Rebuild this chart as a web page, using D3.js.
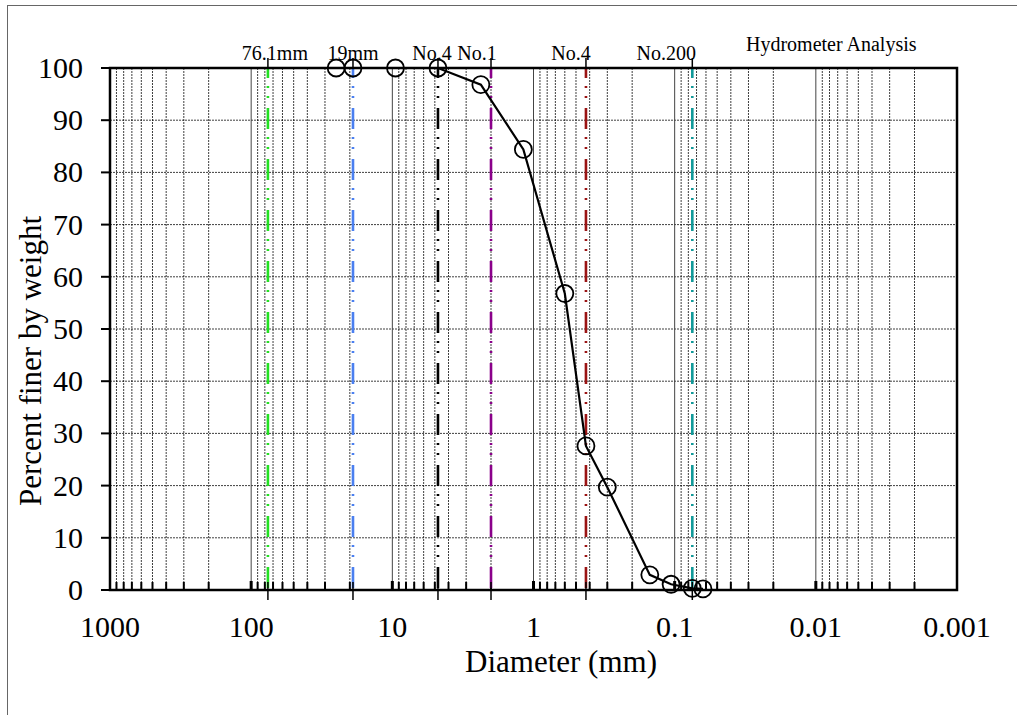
<!DOCTYPE html>
<html>
<head>
<meta charset="utf-8">
<script src="https://cdn.jsdelivr.net/npm/d3@7"></script>
<style>
    body{margin:0;background:#fff;}
    text{font-family:'Liberation Serif','Times New Roman',serif;fill:#000;}
</style>
</head>
<body>
<script>
// sieve analysis results
var diameters=[25,19,9.5,4.75,2.36,1.18,0.6,0.425,0.3,0.15,0.106,0.075,0.063];
var percentFiner=[100,100,100,100,96.8,84.4,56.8,27.6,19.7,2.9,1.1,0.3,0.2];
// reference sieve sizes
var sieveSizes=[76.1,19,4.75,2,0.425,0.075];
var sieveLabels=['76.1mm','19mm','No.4','No.1','No.4','No.200'];
var sieveColors=['#22e022','#4a7ff0','#000000','#8a008a','#9a1414','#129a9a'];
var xTicks=[1000,100,10,1,0.1,0.01,0.001];
var yTicks=[0,10,20,30,40,50,60,70,80,90,100];

var width=1017,height=715;
var pLeft=110,pRight=957,pTop=68,pBottom=590;
var labelDx=[7,0,-6,-14,-15,-26];   // label nudges, as in the sheet

var svg=d3.select('body').append('svg').attr('width',width).attr('height',height);

// outer frame
svg.append('rect').attr('x',7.5).attr('y',5.5).attr('width',1100).attr('height',800)
    .attr('fill','none').attr('stroke','#666').attr('stroke-width',1);

var x=d3.scaleLog().domain([1000,0.001]).range([pLeft,pRight]);
var y=d3.scaleLinear().domain([0,100]).range([pBottom,pTop]);

// minor + major log positions
var minor=[],major=[];
for(var e=-3;e<3;e++){
    for(var k=2;k<=9;k++)minor.push(k*Math.pow(10,e));
    if(e>-3)major.push(Math.pow(10,e));
}

var grid=svg.append('g');
grid.selectAll('.hgrid').data(yTicks.slice(1,-1)).enter().append('line')
    .attr('x1',pLeft).attr('x2',pRight)
    .attr('y1',function(d){return y(d);}).attr('y2',function(d){return y(d);})
    .attr('stroke','#000').attr('stroke-width',1).attr('stroke-dasharray','2,1').attr('opacity',0.75);
grid.selectAll('.vminor').data(minor).enter().append('line')
    .attr('x1',function(d){return x(d);}).attr('x2',function(d){return x(d);})
    .attr('y1',pTop).attr('y2',pBottom)
    .attr('stroke','#000').attr('stroke-width',1).attr('stroke-dasharray','2,1').attr('opacity',0.75);
grid.selectAll('.vmajor').data(major).enter().append('line')
    .attr('x1',function(d){return x(d);}).attr('x2',function(d){return x(d);})
    .attr('y1',pTop).attr('y2',pBottom)
    .attr('stroke','#444').attr('stroke-width',1);

// bottom ticks (inside)
svg.selectAll('.mtick').data(minor).enter().append('line')
    .attr('x1',function(d){return x(d);}).attr('x2',function(d){return x(d);})
    .attr('y1',pBottom-8).attr('y2',pBottom)
    .attr('stroke','#000').attr('stroke-width',2);
svg.selectAll('.Mtick').data(major).enter().append('line')
    .attr('x1',function(d){return x(d);}).attr('x2',function(d){return x(d);})
    .attr('y1',pBottom-9).attr('y2',pBottom)
    .attr('stroke','#000').attr('stroke-width',3);

// sieve lines
var sieve=svg.append('g');
sieve.selectAll('.sline').data(sieveSizes).enter().append('line')
    .attr('x1',function(d){return x(d);}).attr('x2',function(d){return x(d);})
    .attr('y1',pTop).attr('y2',pBottom)
    .attr('stroke',function(d,i){return sieveColors[i];})
    .attr('stroke-width',2.6)
    .attr('stroke-dasharray','21,8,2,8,2,10')
    .attr('stroke-dashoffset',11);
sieve.selectAll('.ttick').data(sieveSizes).enter().append('line')
    .attr('x1',function(d){return x(d);}).attr('x2',function(d){return x(d);})
    .attr('y1',pTop-10).attr('y2',pTop)
    .attr('stroke','#000').attr('stroke-width',1.5);
sieve.selectAll('.btick').data(sieveSizes).enter().append('line')
    .attr('x1',function(d){return x(d);}).attr('x2',function(d){return x(d);})
    .attr('y1',pBottom-8).attr('y2',pBottom+10)
    .attr('stroke','#000').attr('stroke-width',1.5);
sieve.selectAll('.slabel').data(sieveSizes).enter().append('text')
    .attr('x',function(d,i){return x(d)+labelDx[i];})
    .attr('y',pTop-8)
    .attr('text-anchor','middle')
    .style('font-size','20px')
    .text(function(d,i){return sieveLabels[i];});

svg.append('text').attr('x',746).attr('y',51).style('font-size','20px').text('Hydrometer Analysis');

// y ticks
svg.selectAll('.ytick').data(yTicks).enter().append('line')
    .attr('x1',pLeft-9).attr('x2',pLeft)
    .attr('y1',function(d){return y(d);}).attr('y2',function(d){return y(d);})
    .attr('stroke','#000').attr('stroke-width',2);
svg.selectAll('.ylab').data(yTicks).enter().append('text')
    .attr('x',83).attr('y',function(d){return y(d)+10;})
    .attr('text-anchor','end')
    .style('font-size','30px')
    .text(function(d){return d;});
svg.selectAll('.xlab').data(xTicks).enter().append('text')
    .attr('x',function(d){return x(d);}).attr('y',637)
    .attr('text-anchor','middle')
    .style('font-size','30px')
    .text(function(d){return d;});

// frame
svg.append('rect').attr('x',pLeft).attr('y',pTop).attr('width',pRight-pLeft).attr('height',pBottom-pTop)
    .attr('fill','none').attr('stroke','#000').attr('stroke-width',2.5);

// gradation line + markers
var pts=diameters.map(function(d,i){return [x(d),y(percentFiner[i])];});
svg.append('path').attr('d',d3.line()(pts))
    .attr('fill','none').attr('stroke','#000').attr('stroke-width',2.2);
svg.selectAll('.pt').data(pts).enter().append('circle')
    .attr('cx',function(d){return d[0];}).attr('cy',function(d){return d[1];})
    .attr('r',8.5).attr('fill','none').attr('stroke','#000').attr('stroke-width',1.8);

// axis titles
svg.append('text').attr('x',561).attr('y',672).attr('text-anchor','middle')
    .style('font-size','31px').text('Diameter (mm)');
svg.append('text').attr('transform','translate(41,361) rotate(-90)').attr('text-anchor','middle')
    .style('font-size','31px').text('Percent finer by weight');
</script>
</body>
</html>
